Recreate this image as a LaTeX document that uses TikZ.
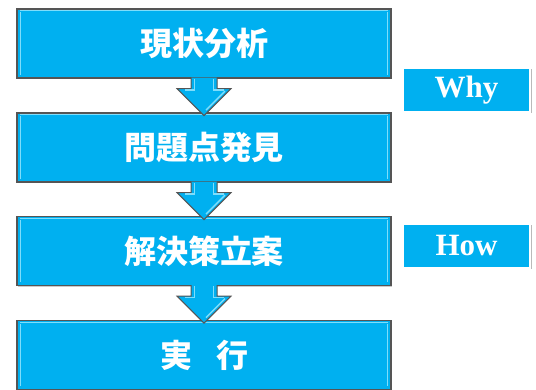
\documentclass[tikz,border=0pt]{standalone}
\usepackage{fontspec}
\setmainfont{Liberation Serif}
\newfontfamily\cjk{Noto Sans CJK JP}
\usetikzlibrary{shadows}
\definecolor{boxblue}{HTML}{00B0F0}
\definecolor{lightblue}{HTML}{7FDDFB}
\definecolor{edgegray}{HTML}{555555}
\begin{document}
\begin{tikzpicture}[x=1pt,y=1pt,
  stepbox/.style={draw=edgegray, line width=1.2pt, fill=boxblue, minimum width=374pt, minimum height=69pt, inner sep=0pt,
    font=\cjk\bfseries\fontsize{32}{32}\selectfont, text=white,
    drop shadow={shadow xshift=1.2pt, shadow yshift=-1.2pt, fill=black!35, opacity=0.6}},
  tagbox/.style={draw=white, line width=2pt, fill=boxblue, minimum width=127pt, minimum height=44pt, inner sep=0pt,
    font=\bfseries\fontsize{31}{31}\selectfont, text=white,
    drop shadow={shadow xshift=1.5pt, shadow yshift=-1.5pt, fill=black!45, opacity=0.6}},
  flowarrow/.style={draw=edgegray, line width=1pt, fill=boxblue, line join=miter},
  bevel/.style={draw=lightblue, line width=1.6pt}
]
\useasboundingbox (0,0) rectangle (536,-390);

\node[stepbox] (b1) at (204,-43.5) {現状分析};
\node[stepbox] (b2) at (204,-147.5) {問題点発見};
\node[stepbox] (b3) at (204,-251) {解決策立案};
\node[stepbox] (b4) at (204,-355) {実\hspace{0.75em}行};

% bevel highlights
\foreach \b in {b1,b2,b3,b4}{
  \draw[bevel] ([xshift=4pt,yshift=-4pt]\b.north west) -- ([xshift=4pt,yshift=4pt]\b.south west);
  \draw[bevel] ([xshift=-4pt,yshift=-4pt]\b.north east) -- ([xshift=-4pt,yshift=4pt]\b.south east);
  \draw[draw=lightblue, line width=0.8pt] ([xshift=4pt,yshift=-2.5pt]\b.north west) -- ([xshift=-4pt,yshift=-2.5pt]\b.north east);
}

% arrows
\foreach \a in {b1,b2,b3}{
  \draw[flowarrow] ([xshift=-13pt,yshift=1pt]\a.south) -- ++(0,-11) -- ++(-14,0) -- ++(27,-27) -- ++(27,27) -- ++(-14,0) -- ++(0,11);
  \draw[draw=lightblue, line width=1.3pt] ([xshift=-9.5pt]\a.south) -- ++(0,-11.5) -- ++(-10,0);
  \draw[draw=lightblue, line width=1.3pt] ([xshift=9.5pt]\a.south) -- ++(0,-11.5) -- ++(10,0);
  \draw[draw=lightblue, line width=1.3pt] ([xshift=21pt,yshift=-12.5pt]\a.south) -- ++(-19,-19);
}

\node[tagbox] (why) at (466.5,-90) {Why};
\node[tagbox] (how) at (466.5,-246) {How};
\end{tikzpicture}
\end{document}
